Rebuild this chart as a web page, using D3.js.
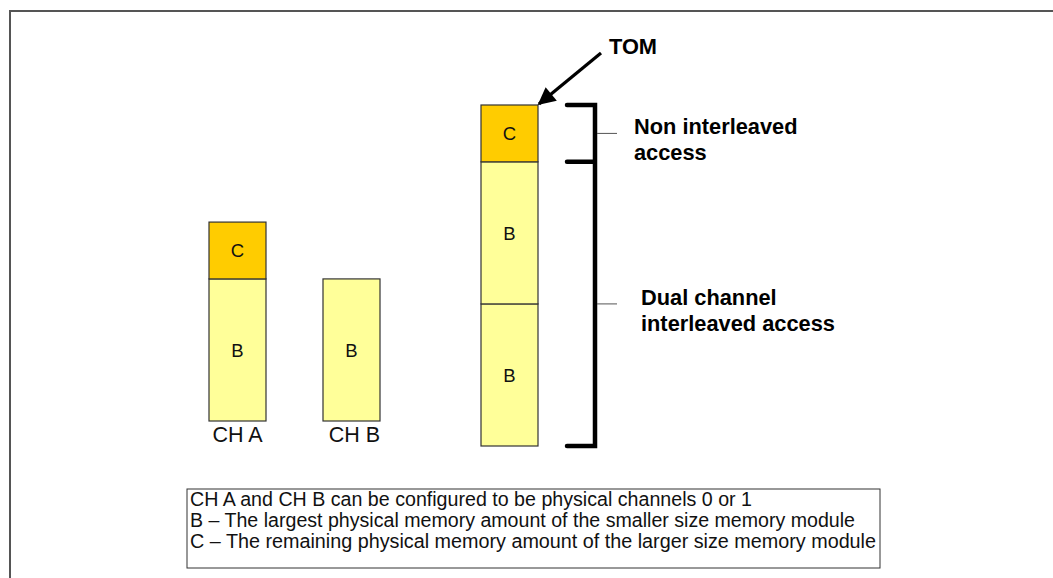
<!DOCTYPE html>
<html>
<head>
<meta charset="utf-8">
<script src="https://cdn.jsdelivr.net/npm/d3@7"></script>
<style>
  html, body { margin: 0; padding: 0; background: #fff; }
  svg { display: block; font-family: "Liberation Sans", Arial, sans-serif; }
</style>
</head>
<body>
<svg id="chart" width="1053" height="578"></svg>
<script>
// ---- data ----
const columnNames = ["CH A", "CH B", "Combined"];
const columnLabels = ["CH A", "CH B", ""];
const chASegments = ["B", "C"];
const chAValues = [5, 2];
const chBSegments = ["B"];
const chBValues = [5];
const combinedSegments = ["B", "B", "C"];
const combinedValues = [5, 5, 2];
const bracketLabels = [["Non interleaved", "access"], ["Dual channel", "interleaved access"]];
const pointerLabel = "TOM";
const legendLines = [
  "CH A and CH B can be configured to be physical channels 0 or 1",
  "B \u2013 The largest physical memory amount of the smaller size memory module",
  "C \u2013 The remaining physical memory amount of the larger size memory module"
];

// ---- layout ----
const svg = d3.select("#chart");
const W = 1053, H = 578;
const colors = { B: "#FFFF99", C: "#FFCC00" };
const barWidth = 57;

svg.append("rect").attr("x", 10).attr("y", 11).attr("width", W + 20).attr("height", H + 20)
  .attr("fill", "none").attr("stroke", "#555").attr("stroke-width", 2);

const x = d3.scaleOrdinal().domain(columnNames).range([209, 323, 481]);
const baseline = d3.scaleOrdinal().domain(columnNames).range([421, 421, 446]);
const h = d3.scaleLinear().domain([0, 12]).range([0, 341]);

const columns = [
  { name: "CH A", segs: chASegments, vals: chAValues },
  { name: "CH B", segs: chBSegments, vals: chBValues },
  { name: "Combined", segs: combinedSegments, vals: combinedValues }
];

columns.forEach((col, ci) => {
  let cum = 0;
  const rects = col.segs.map((s, i) => {
    const r = { seg: s, y0: cum, y1: cum + col.vals[i] };
    cum += col.vals[i];
    return r;
  });
  const g = svg.append("g");
  g.selectAll("rect").data(rects).join("rect")
    .attr("x", x(col.name))
    .attr("y", d => baseline(col.name) - h(d.y1))
    .attr("width", barWidth)
    .attr("height", d => h(d.y1) - h(d.y0))
    .attr("fill", d => colors[d.seg])
    .attr("stroke", "#333")
    .attr("stroke-width", 1.2);
  g.selectAll("text").data(rects).join("text")
    .attr("x", x(col.name) + barWidth / 2)
    .attr("y", d => baseline(col.name) - (h(d.y0) + h(d.y1)) / 2)
    .attr("dy", "0.36em")
    .attr("text-anchor", "middle")
    .attr("font-size", 18.5)
    .attr("fill", "#111")
    .text(d => d.seg);
  if (columnLabels[ci]) {
    svg.append("text")
      .attr("x", x(col.name) + barWidth / 2 + (ci === 1 ? 3 : 0))
      .attr("y", baseline(col.name) + 21)
      .attr("text-anchor", "middle")
      .attr("font-size", 21.5)
      .attr("fill", "#111")
      .text(columnLabels[ci]);
  }
});

// ---- brackets ----
const comb = "Combined";
const cTop = baseline(comb) - h(12);
const cMid = baseline(comb) - h(10);
const cBot = baseline(comb);
const bx = 595, armX = 567;
const bracketPath = d3.path();
bracketPath.moveTo(armX, cTop); bracketPath.lineTo(bx, cTop); bracketPath.lineTo(bx, cBot); bracketPath.lineTo(armX, cBot);
bracketPath.moveTo(armX, cMid); bracketPath.lineTo(bx, cMid);
svg.append("path").attr("d", bracketPath.toString())
  .attr("fill", "none").attr("stroke", "#000").attr("stroke-width", 4.5)
  .attr("stroke-linecap", "round").attr("stroke-linejoin", "miter");

const groups = [
  { mid: (cTop + cMid) / 2, lines: bracketLabels[0], tx: 634, base: 134 },
  { mid: (cMid + cBot) / 2, lines: bracketLabels[1], tx: 641, base: 305 }
];
groups.forEach(gp => {
  svg.append("line").attr("x1", bx + 2).attr("x2", 617)
    .attr("y1", gp.mid).attr("y2", gp.mid)
    .attr("stroke", "#555").attr("stroke-width", 1);
  gp.lines.forEach((l, i) => {
    svg.append("text").attr("x", gp.tx).attr("y", gp.base + i * 26)
      .attr("font-size", 21.8).attr("font-weight", "bold").attr("fill", "#000")
      .text(l);
  });
});

// ---- TOM pointer ----
svg.append("defs").append("marker")
  .attr("id", "arrow").attr("viewBox", "0 0 10 10")
  .attr("refX", 9).attr("refY", 5)
  .attr("markerWidth", 6).attr("markerHeight", 5.5)
  .attr("orient", "auto").attr("markerUnits", "strokeWidth")
  .append("path").attr("d", "M0,0 L10,5 L0,10 Z").attr("fill", "#000");

svg.append("line")
  .attr("x1", 601).attr("y1", 53)
  .attr("x2", x(comb) + barWidth + 1).attr("y2", cTop - 1)
  .attr("stroke", "#000").attr("stroke-width", 3.2)
  .attr("marker-end", "url(#arrow)");

svg.append("text").attr("x", 609).attr("y", 54)
  .attr("font-size", 21.8).attr("font-weight", "bold").attr("fill", "#000")
  .text(pointerLabel);

// ---- legend box ----
svg.append("rect").attr("x", 187).attr("y", 489).attr("width", 693).attr("height", 79)
  .attr("fill", "#fff").attr("stroke", "#333").attr("stroke-width", 1);
const legendEnds = [752, 855, 876];
legendLines.forEach((l, i) => {
  svg.append("text").attr("x", 190).attr("y", 506 + i * 21)
    .attr("font-size", 20).attr("fill", "#111")
    .attr("textLength", legendEnds[i] - 190).attr("lengthAdjust", "spacingAndGlyphs")
    .text(l);
});
</script>
</body>
</html>
